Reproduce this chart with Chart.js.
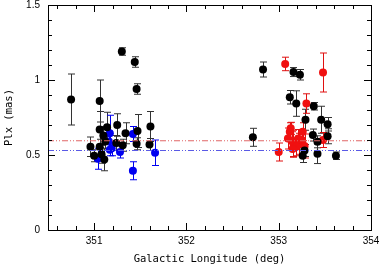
<!DOCTYPE html>
<html>
<head>
<meta charset="utf-8">
<script src="https://cdn.jsdelivr.net/npm/chart.js@4.4.1/dist/chart.umd.min.js"></script>
<style>
  html, body { margin: 0; padding: 0; background: #fff; }
  canvas { display: block; }
</style>
</head>
<body>
<canvas id="plxChart" width="379" height="266"></canvas>
<script>
// Données
const blackLon = [350.75, 351.06, 351.30, 351.44, 351.46, 351.06, 351.14, 351.10, 351.25, 351.34, 351.47, 351.61,
                  351.46, 351.60, 350.96, 351.00, 351.06, 351.08, 351.11, 351.12, 351.24, 351.31,
                  352.83, 353.16, 353.23, 353.12, 353.19, 353.38, 353.29, 353.46, 353.53, 352.72,
                  353.26, 353.28, 353.37, 353.42, 353.42, 353.53, 353.62];
const blackPlx = [0.87, 0.86, 1.19, 1.12, 0.94, 0.67, 0.685, 0.63, 0.70, 0.645, 0.66, 0.69,
                  0.575, 0.57, 0.555, 0.495, 0.555, 0.505, 0.47, 0.59, 0.58, 0.565,
                  1.07, 1.053, 1.035, 0.885, 0.843, 0.825, 0.735, 0.735, 0.705, 0.618,
                  0.495, 0.53, 0.633, 0.588, 0.508, 0.625, 0.495];
const blackErr = [0.17, 0.14, 0.025, 0.035, 0.035, 0.12, 0.10, 0.06, 0.075, 0.07, 0.11, 0.10,
                  0.04, 0.04, 0.065, 0.04, 0.05, 0.06, 0.075, 0.05, 0.05, 0.04,
                  0.05, 0.03, 0.035, 0.045, 0.085, 0.025, 0.07, 0.09, 0.045, 0.06,
                  0.045, 0.04, 0.04, 0.04, 0.065, 0.05, 0.025];

const blueLon = [351.04, 351.17, 351.16, 351.19, 351.17, 351.28, 351.42, 351.42, 351.66];
const bluePlx = [0.475, 0.645, 0.59, 0.545, 0.535, 0.52, 0.395, 0.64, 0.515];
const blueErr = [0.07, 0.12, 0.05, 0.05, 0.04, 0.04, 0.06, 0.05, 0.085];

const redLon = [353.07, 353.48, 353.30, 353.13, 353.12, 353.00, 353.10, 353.14, 353.16,
                353.21, 353.22, 353.25, 353.19, 353.26, 353.28, 353.48, 353.15];
const redPlx = [1.107, 1.05, 0.843, 0.678, 0.655, 0.52, 0.61, 0.595, 0.575,
                0.61, 0.575, 0.60, 0.555, 0.655, 0.56, 0.60, 0.54];
const redErr = [0.045, 0.13, 0.065, 0.04, 0.06, 0.06, 0.07, 0.06, 0.09,
                0.06, 0.07, 0.05, 0.06, 0.06, 0.08, 0.05, 0.05];

const redMean = 0.595;
const blueMean = 0.53;

const xTicks = [351, 352, 353, 354];
const yTicks = [0, 0.5, 1, 1.5];
const xRange = [350.5, 354];
const yRange = [0, 1.5];

function toPoints(lon, plx, err) {
    return lon.map((l, i) => ({ x: l, y: plx[i], err: err[i] }));
}

function meanLine(value, color) {
    return {
        type: 'line',
        data: [{ x: xRange[0], y: value }, { x: xRange[1], y: value }],
        borderColor: color,
        borderWidth: 1,
        borderDash: [6, 2, 1, 2, 1, 2],
        pointRadius: 0,
        fill: false
    };
}

function scatterSet(points, color, barColor) {
    return {
        type: 'scatter',
        data: points,
        backgroundColor: color,
        borderColor: color,
        borderWidth: 0,
        pointRadius: 4,
        barColor: barColor
    };
}

// Barres d'erreur sous les points
const errorBars = {
    id: 'errorBars',
    beforeDatasetsDraw(chart) {
        const ctx = chart.ctx;
        const xs = chart.scales.x, ys = chart.scales.y;
        ctx.save();
        ctx.lineWidth = 1;
        chart.data.datasets.forEach(ds => {
            if (!ds.barColor) return;
            ctx.strokeStyle = ds.barColor;
            ds.data.forEach(p => {
                const px = Math.round(xs.getPixelForValue(p.x)) + 0.5;
                const top = ys.getPixelForValue(p.y + p.err);
                const bot = ys.getPixelForValue(p.y - p.err);
                ctx.beginPath();
                ctx.moveTo(px, top); ctx.lineTo(px, bot);
                ctx.moveTo(px - 3.5, top); ctx.lineTo(px + 3.5, top);
                ctx.moveTo(px - 3.5, bot); ctx.lineTo(px + 3.5, bot);
                ctx.stroke();
            });
        });
        ctx.restore();
    }
};

// Cadre et graduations vers l'intérieur sur les quatre côtés
const frameTicks = {
    id: 'frameTicks',
    afterDraw(chart) {
        const ctx = chart.ctx;
        const a = chart.chartArea;
        const xs = chart.scales.x, ys = chart.scales.y;
        ctx.save();
        ctx.strokeStyle = '#000';
        ctx.lineWidth = 1;
        ctx.strokeRect(a.left + 0.5, a.top + 0.5, a.right - a.left, a.bottom - a.top);
        ctx.beginPath();
        for (let v = 350.6; v < 354; v += 0.2) {
            const major = Math.abs(v - Math.round(v)) < 0.01;
            const len = major ? 7 : 4;
            const px = Math.round(xs.getPixelForValue(v)) + 0.5;
            ctx.moveTo(px, a.bottom); ctx.lineTo(px, a.bottom - len);
            ctx.moveTo(px, a.top); ctx.lineTo(px, a.top + len);
        }
        for (let v = 0.1; v < 1.5; v += 0.1) {
            const major = Math.abs(v * 2 - Math.round(v * 2)) < 0.01;
            const len = major ? 7 : 4;
            const py = Math.round(ys.getPixelForValue(v)) + 0.5;
            ctx.moveTo(a.left, py); ctx.lineTo(a.left + len, py);
            ctx.moveTo(a.right, py); ctx.lineTo(a.right - len, py);
        }
        ctx.stroke();
        ctx.restore();
    }
};

const ctx = document.getElementById('plxChart').getContext('2d');
new Chart(ctx, {
    data: {
        datasets: [
            meanLine(redMean, '#e06666'),
            meanLine(blueMean, '#5a5ae6'),
            scatterSet(toPoints(blackLon, blackPlx, blackErr), '#000000', '#333333'),
            scatterSet(toPoints(blueLon, bluePlx, blueErr), '#0000f0', '#0000f0'),
            scatterSet(toPoints(redLon, redPlx, redErr), '#f01010', '#e01010')
        ]
    },
    options: {
        responsive: false,
        animation: false,
        layout: { padding: { top: 5, right: 8, left: 0, bottom: 0 } },
        plugins: { legend: { display: false }, tooltip: { enabled: false } },
        scales: {
            x: {
                type: 'linear',
                min: xRange[0],
                max: xRange[1],
                grid: { display: false, drawTicks: false },
                border: { display: false },
                afterBuildTicks: s => { s.ticks = xTicks.map(v => ({ value: v })); },
                afterFit: s => { s.height = 36; s.paddingLeft = 0; s.paddingRight = 0; },
                ticks: {
                    color: '#000',
                    padding: 5,
                    maxRotation: 0,
                    callback: v => String(v),
                    font: { family: 'Liberation Sans', size: 10 }
                },
                title: {
                    display: true,
                    text: 'Galactic Longitude (deg)',
                    color: '#000',
                    padding: { top: 0, bottom: 0 },
                    font: { family: 'DejaVu Sans Mono', size: 10.5 }
                }
            },
            y: {
                type: 'linear',
                min: yRange[0],
                max: yRange[1],
                grid: { display: false, drawTicks: false },
                border: { display: false },
                afterBuildTicks: s => { s.ticks = yTicks.map(v => ({ value: v })); },
                afterFit: s => { s.width = 48; s.paddingTop = 0; s.paddingBottom = 0; },
                ticks: {
                    color: '#000',
                    padding: 8,
                    callback: v => String(v),
                    font: { family: 'Liberation Sans', size: 10 }
                },
                title: {
                    display: true,
                    text: 'Plx (mas)',
                    color: '#000',
                    padding: { top: 3, bottom: 0 },
                    font: { family: 'DejaVu Sans Mono', size: 10.5 }
                }
            }
        }
    },
    plugins: [errorBars, frameTicks]
});
</script>
</body>
</html>
